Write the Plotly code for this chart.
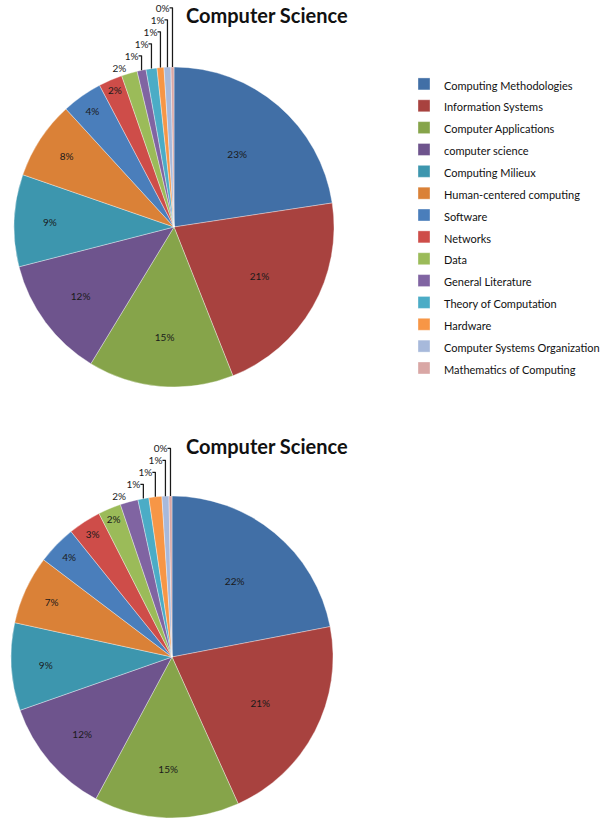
import plotly.graph_objects as go

# ---- data ----
title_text = "Computer Science"

top_labels = ["Computing Methodologies", "Information Systems", "Computer Applications",
              "computer science", "Computing Milieux", "Human-centered computing",
              "Software", "Networks", "Data", "General Literature",
              "Theory of Computation", "Hardware", "Computer Systems Organization",
              "Mathematics of Computing"]
top_values = [22.6, 21.4, 14.7, 12.3, 9.3, 7.9, 4.1, 2.4, 1.6, 0.9, 1.1, 0.7, 0.7, 0.3]

bottom_labels = ["Computing Methodologies", "Information Systems", "Computer Applications",
                 "computer science", "Computing Milieux", "Human-centered computing",
                 "Software", "Data", "Networks", "Computer Systems Organization",
                 "Hardware", "Theory of Computation", "General Literature",
                 "Mathematics of Computing"]
bottom_values = [22.0, 21.3, 14.6, 11.8, 8.8, 6.9, 3.9, 3.3, 2.3, 1.8, 1.1, 1.3, 0.7, 0.3]

# colours by slice position (Excel 2007 style palette)
palette = ["#416FA6", "#A8423F", "#86A44A", "#6E548D", "#3D96AE", "#DA8137",
           "#4A7EBB", "#CE4D49", "#9BBB59", "#8064A2", "#4BACC6", "#F79646",
           "#A7B9DB", "#D9A7A5"]

top_textpos = ["inside"] * 8 + ["outside"] * 6
bottom_textpos = ["inside"] * 9 + ["outside"] * 5

FONT = "Lato"
LEG_SIZE = 14.5   # sets legend row spacing
TXT_SIZE = 11     # visible legend text size


def disp(lbls):
    return [f"<span style='font-size:{TXT_SIZE}px'>{l}</span>" for l in lbls]


fig = go.Figure()

fig.add_trace(go.Pie(
    labels=disp(top_labels), values=top_values, sort=False, direction="clockwise",
    rotation=0, marker=dict(colors=palette, line=dict(color="rgba(255,255,255,0.6)", width=0.6)),
    textposition=top_textpos, texttemplate="%{percent:.0%}",
    insidetextorientation="horizontal",
    textfont=dict(family=FONT, size=10, color="#1a1a1a"),
    domain=dict(x=[14/601, 334/601], y=[1-387/821, 1-67/821]),
    legend="legend", showlegend=True, hoverinfo="label+percent",
))

fig.add_trace(go.Pie(
    labels=disp(bottom_labels), values=bottom_values, sort=False, direction="clockwise",
    rotation=0, marker=dict(colors=palette, line=dict(color="rgba(255,255,255,0.6)", width=0.6)),
    textposition=bottom_textpos, texttemplate="%{percent:.0%}",
    insidetextorientation="horizontal",
    textfont=dict(family=FONT, size=10, color="#1a1a1a"),
    domain=dict(x=[11/601, 333/601], y=[1-818/821, 1-496/821]),
    legend="legend2", showlegend=True, hoverinfo="label+percent",
))

legend_common = dict(font=dict(family=FONT, size=LEG_SIZE, color="#111111"),
                     bgcolor="rgba(0,0,0,0)", xanchor="left", yanchor="top",
                     traceorder="normal")

fig.update_layout(
    width=601, height=821,
    margin=dict(l=0, r=0, t=0, b=0, autoexpand=False),
    paper_bgcolor="white", plot_bgcolor="white",
    font=dict(family=FONT),
    legend=dict(x=404/601, y=1-68/821, **legend_common),
    legend2=dict(x=404/601, y=1-500/821, **legend_common),
    annotations=[
        dict(text=f"<b>{title_text}</b>", x=266.5/601, y=1-15/821, xref="paper", yref="paper",
             showarrow=False, font=dict(family=FONT, size=20, color="#111111"),
             xanchor="center", yanchor="middle"),
        dict(text=f"<b>{title_text}</b>", x=266.5/601, y=1-446/821, xref="paper", yref="paper",
             showarrow=False, font=dict(family=FONT, size=20, color="#111111"),
             xanchor="center", yanchor="middle"),
    ],
)

fig.write_html("out.html")
